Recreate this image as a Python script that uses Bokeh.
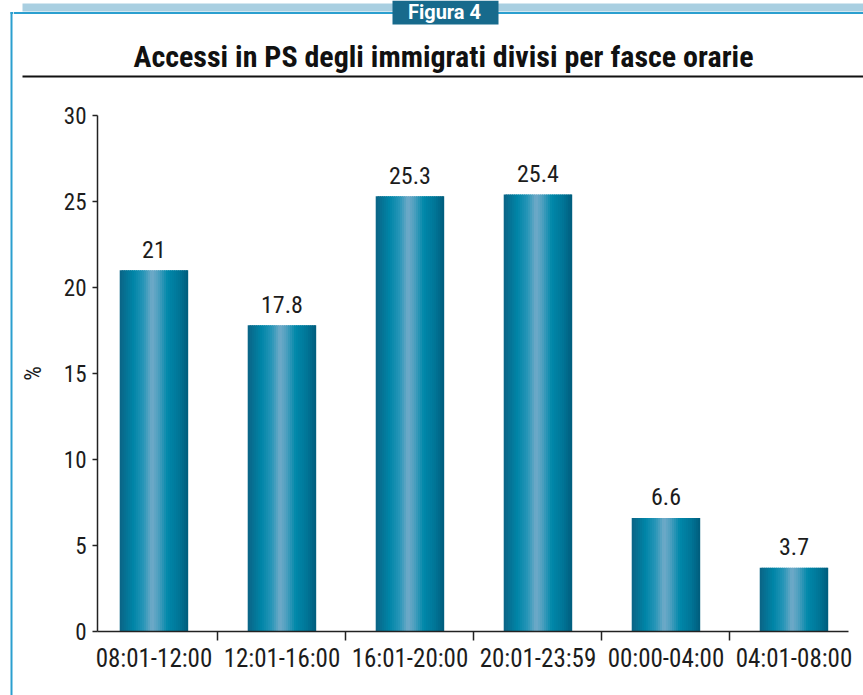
from bokeh.plotting import figure
from bokeh.layouts import row, column
from bokeh.models import Range1d, FixedTicker, ColumnDataSource
from bokeh.core.properties import value
from bokeh.transform import dodge
from bokeh.embed import file_html
from bokeh.resources import INLINE

# ---- data ----
categories = ["08:01-12:00", "12:01-16:00", "16:01-20:00", "20:01-23:59", "00:00-04:00", "04:01-08:00"]
percentages = [21, 17.8, 25.3, 25.4, 6.6, 3.7]
value_labels = ["21", "17.8", "25.3", "25.4", "6.6", "3.7"]
y_ticks = [0, 5, 10, 15, 20, 25, 30]
title_text = "Accessi in PS degli immigrati divisi per fasce orarie"
badge_text = "Figura 4"
y_label = "%"

FONT = "Roboto Condensed"
FRAME_BLUE = "#2b9fcf"
TXT = "#1c1c1c"

xs = list(range(len(categories)))
src = ColumnDataSource(dict(x=xs, top=percentages, lab=value_labels))

# ---- chart ----
p = figure(width=850, height=615, x_range=Range1d(-0.441, 5.426), y_range=Range1d(0, 30),
           output_backend="svg", toolbar_location=None,
           min_border_left=84, min_border_right=15, min_border_top=35, min_border_bottom=64)
p.outline_line_color = None
p.grid.grid_line_color = None

# horizontal gradient of each bar, drawn as narrow strips
stops = [(0.00, (11, 100, 133)), (0.20, (0, 133, 168)), (0.35, (40, 150, 184)),
         (0.47, (112, 170, 200)), (0.56, (80, 160, 192)), (0.70, (0, 136, 170)),
         (0.86, (0, 118, 152)), (1.00, (0, 92, 124))]

def col_at(t):
    for (t0, c0), (t1, c1) in zip(stops[:-1], stops[1:]):
        if t0 <= t <= t1:
            f = (t - t0) / (t1 - t0) if t1 > t0 else 0
            c = [round(a + (b - a) * f) for a, b in zip(c0, c1)]
            return "#%02x%02x%02x" % tuple(c)
    return "#%02x%02x%02x" % stops[-1][1]

bar_w = 0.535
n = 34
step = bar_w / n
for k in range(n):
    t = (k + 0.5) / n
    off = -bar_w / 2 + step * (k + 0.5)
    w = step * (1.6 if k < n - 1 else 1.0)
    off2 = off + (w - step) / 2 if k < n - 1 else off
    p.vbar(x=dodge("x", off2, range=p.x_range), top="top", width=w, bottom=0, source=src,
           fill_color=col_at(t), line_color=None)

p.text(x="x", y="top", text="lab", source=src, text_align="center", text_baseline="alphabetic",
       y_offset=-21, text_font=value(FONT), text_font_size="24px", text_color=TXT)

# x axis: ticks between categories, labels at centres
p.xaxis.ticker = FixedTicker(ticks=xs, minor_ticks=[i + 0.5 for i in xs[:-1]])
p.xaxis.major_label_overrides = {i: c for i, c in zip(xs, categories)}
p.xaxis.major_tick_out = 0
p.xaxis.major_tick_in = 0
p.xaxis.minor_tick_out = 9
p.xaxis.minor_tick_in = 0
p.xaxis.minor_tick_line_color = "#222222"
p.xaxis.minor_tick_line_width = 1.5
p.xaxis.major_label_standoff = 3
p.xaxis.major_label_text_font = FONT
p.xaxis.major_label_text_font_size = "25px"
p.xaxis.major_label_text_color = TXT
p.xaxis.axis_line_color = "#222222"
p.xaxis.axis_line_width = 1.5

p.yaxis.ticker = FixedTicker(ticks=y_ticks)
p.yaxis.major_tick_out = 5
p.yaxis.major_tick_in = 0
p.yaxis.minor_tick_line_color = None
p.yaxis.major_tick_line_color = "#222222"
p.yaxis.major_tick_line_width = 1.5
p.yaxis.major_label_standoff = 6
p.yaxis.major_label_text_font = FONT
p.yaxis.major_label_text_font_size = "23px"
p.yaxis.major_label_text_color = TXT
p.yaxis.axis_line_color = "#222222"
p.yaxis.axis_line_width = 1.5
p.yaxis.axis_label = y_label
p.yaxis.axis_label_text_font = FONT
p.yaxis.axis_label_text_font_size = "23px"
p.yaxis.axis_label_text_font_style = "normal"
p.yaxis.axis_label_text_color = TXT
p.yaxis.axis_label_standoff = 14

# ---- header ----
h = figure(width=850, height=80, x_range=Range1d(13, 863), y_range=Range1d(80, 0),
           output_backend="svg", toolbar_location=None, min_border=0,
           x_axis_type=None, y_axis_type=None)
h.outline_line_color = None
h.grid.grid_line_color = None
h.quad(left=[22], right=[863], top=[3], bottom=[11], fill_color="#a9cfe1", line_color=None)
h.quad(left=[13], right=[863], top=[11.5], bottom=[13.5], fill_color=FRAME_BLUE, line_color=None)
h.quad(left=[392], right=[498], top=[0], bottom=[24], fill_color="#176a8c", line_color=None)
h.text(x=[444], y=[11], text=[badge_text], text_align="center", text_baseline="middle",
       text_font=value("Roboto"), text_font_style="bold", text_font_size="20px", text_color="white")
h.text(x=[443], y=[56], text=[title_text], text_align="center", text_baseline="middle",
       text_font=value(FONT), text_font_style="bold", text_font_size="30px", text_color="#111111")
h.quad(left=[22], right=[863], top=[75], bottom=[77], fill_color="#111111", line_color=None)

# ---- left frame strip ----
s = figure(width=13, height=695, x_range=Range1d(0, 13), y_range=Range1d(695, 0),
           output_backend="svg", toolbar_location=None, min_border=0,
           x_axis_type=None, y_axis_type=None)
s.outline_line_color = None
s.grid.grid_line_color = None
s.quad(left=[10], right=[13], top=[11.5], bottom=[13.5], fill_color=FRAME_BLUE, line_color=None)
s.quad(left=[10], right=[12], top=[11.5], bottom=[695], fill_color=FRAME_BLUE, line_color=None)

layout = row(s, column(row(h), row(p), spacing=0), spacing=0)
open("out.html", "w").write(file_html(layout, INLINE))
